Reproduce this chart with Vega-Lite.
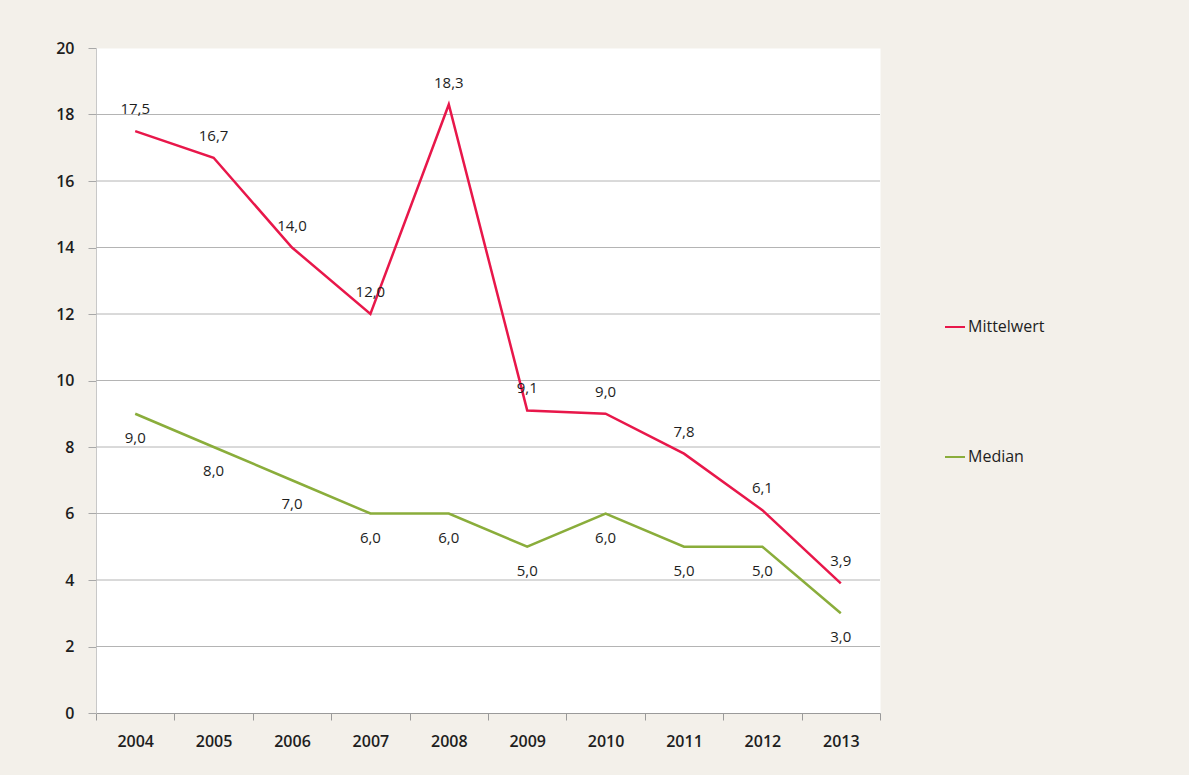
{
  "$schema": "https://vega.github.io/schema/vega-lite/v6.json",
  "width": 784,
  "height": 665,
  "autosize": "none",
  "padding": {"left": 96, "top": 48, "right": 309, "bottom": 62},
  "background": "#f3f0ea",
  "config": {
    "locale": {"number": {"decimal": ",", "thousands": ".", "grouping": [3], "currency": ["", " €"]}},
    "view": {"fill": "white", "stroke": "transparent"},
    "font": "Open Sans",
    "text": {"font": "Open Sans"}
  },
  "datasets": {
    "werte": [
      {"Jahr": "2004", "Reihe": "Mittelwert", "Wert": 17.5},
      {"Jahr": "2005", "Reihe": "Mittelwert", "Wert": 16.7},
      {"Jahr": "2006", "Reihe": "Mittelwert", "Wert": 14.0},
      {"Jahr": "2007", "Reihe": "Mittelwert", "Wert": 12.0},
      {"Jahr": "2008", "Reihe": "Mittelwert", "Wert": 18.3},
      {"Jahr": "2009", "Reihe": "Mittelwert", "Wert": 9.1},
      {"Jahr": "2010", "Reihe": "Mittelwert", "Wert": 9.0},
      {"Jahr": "2011", "Reihe": "Mittelwert", "Wert": 7.8},
      {"Jahr": "2012", "Reihe": "Mittelwert", "Wert": 6.1},
      {"Jahr": "2013", "Reihe": "Mittelwert", "Wert": 3.9},
      {"Jahr": "2004", "Reihe": "Median", "Wert": 9.0},
      {"Jahr": "2005", "Reihe": "Median", "Wert": 8.0},
      {"Jahr": "2006", "Reihe": "Median", "Wert": 7.0},
      {"Jahr": "2007", "Reihe": "Median", "Wert": 6.0},
      {"Jahr": "2008", "Reihe": "Median", "Wert": 6.0},
      {"Jahr": "2009", "Reihe": "Median", "Wert": 5.0},
      {"Jahr": "2010", "Reihe": "Median", "Wert": 6.0},
      {"Jahr": "2011", "Reihe": "Median", "Wert": 5.0},
      {"Jahr": "2012", "Reihe": "Median", "Wert": 5.0},
      {"Jahr": "2013", "Reihe": "Median", "Wert": 3.0}
    ],
    "gitter": [
      {"Wert": 2}, {"Wert": 4}, {"Wert": 6}, {"Wert": 8}, {"Wert": 10},
      {"Wert": 12}, {"Wert": 14}, {"Wert": 16}, {"Wert": 18}
    ]
  },
  "layer": [
    {
      "data": {"name": "gitter"},
      "mark": {"type": "rule", "color": "#b4b4b4", "strokeWidth": 1},
      "encoding": {
        "y": {"field": "Wert", "type": "quantitative"}
      }
    },
    {
      "data": {"name": "werte"},
      "mark": {"type": "line", "strokeWidth": 2.5},
      "encoding": {
        "x": {
          "field": "Jahr", "type": "ordinal", "bandPosition": 0.5,
          "scale": {"type": "band", "paddingInner": 0, "paddingOuter": 0},
          "axis": {
            "title": null, "labelAngle": 0, "tickBand": "extent",
            "labelFontSize": 16, "labelFontWeight": 600, "labelColor": "#1e1e1e",
            "labelPadding": 13, "tickSize": 7, "tickColor": "#9a9a9a",
            "domainColor": "#9a9a9a", "grid": false
          }
        },
        "y": {
          "field": "Wert", "type": "quantitative",
          "scale": {"domain": [0, 20], "nice": false},
          "axis": {
            "title": null, "values": [0, 2, 4, 6, 8, 10, 12, 14, 16, 18, 20],
            "labelFontSize": 16, "labelFontWeight": 600, "labelColor": "#1e1e1e",
            "labelPadding": 14, "tickSize": 8, "tickColor": "#a8a8a8",
            "domainColor": "#c8c8c8", "grid": false
          }
        },
        "color": {
          "field": "Reihe", "type": "nominal",
          "scale": {"domain": ["Mittelwert", "Median"], "range": ["#e8174a", "#8aad3b"]},
          "legend": {
            "title": null, "orient": "none", "legendX": 848, "legendY": 268,
            "symbolType": "stroke", "symbolSize": 400, "symbolStrokeWidth": 2,
            "labelFontSize": 16, "labelFontWeight": 500, "labelColor": "#1e1e1e", "labelOffset": 2,
            "rowPadding": 111
          }
        }
      }
    },
    {
      "data": {"name": "werte"},
      "transform": [{"filter": "datum.Reihe == 'Mittelwert'"}],
      "mark": {"type": "text", "dy": -22, "fontSize": 15, "fontWeight": 500, "color": "#1e1e1e"},
      "encoding": {
        "x": {"field": "Jahr", "type": "ordinal", "bandPosition": 0.5},
        "y": {"field": "Wert", "type": "quantitative"},
        "text": {"field": "Wert", "type": "quantitative", "format": ".1f"}
      }
    },
    {
      "data": {"name": "werte"},
      "transform": [{"filter": "datum.Reihe == 'Median'"}],
      "mark": {"type": "text", "dy": 24, "fontSize": 15, "fontWeight": 500, "color": "#1e1e1e"},
      "encoding": {
        "x": {"field": "Jahr", "type": "ordinal", "bandPosition": 0.5},
        "y": {"field": "Wert", "type": "quantitative"},
        "text": {"field": "Wert", "type": "quantitative", "format": ".1f"}
      }
    }
  ]
}
